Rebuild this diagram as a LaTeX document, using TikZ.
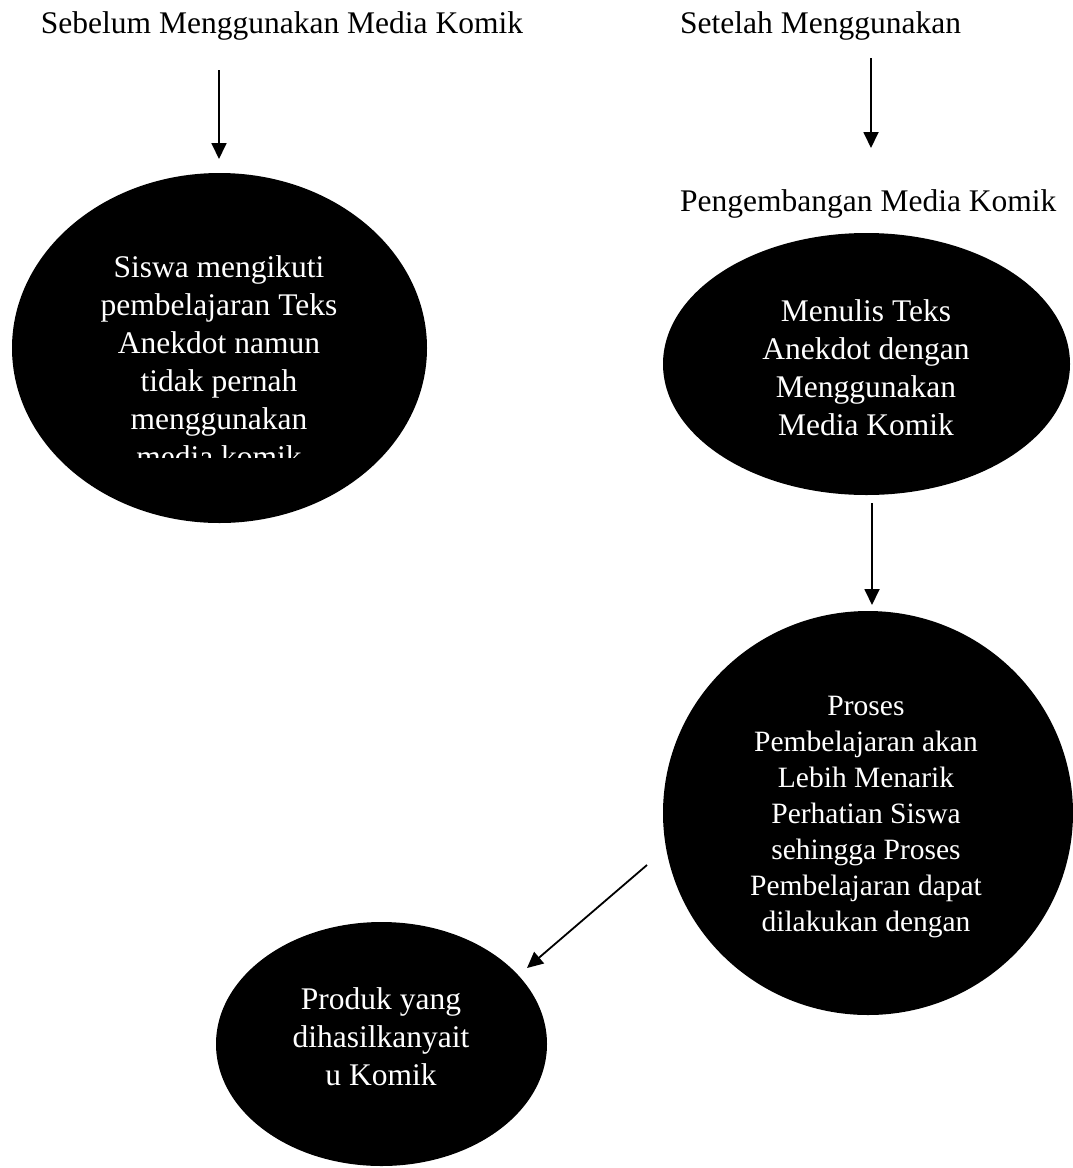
\documentclass[tikz,border=0pt]{standalone}
\usepackage{fontspec}
\setmainfont{Liberation Serif}
\usetikzlibrary{shapes.geometric,arrows.meta}
\begin{document}
\begin{tikzpicture}[x=1pt,y=-1pt,
  blob/.style={ellipse,fill=black,draw=none,inner sep=0pt,outer sep=0pt},
  btext/.style={text=white,align=center,inner sep=0pt,font=\fontsize{31.5}{38}\selectfont},
  ttext/.style={text=black,inner sep=0pt,anchor=base,font=\fontsize{31.5}{37.5}\selectfont},
  arr/.style={line width=1.8pt,-{Triangle[length=16pt,width=15pt]}}]
\useasboundingbox (0,0) rectangle (1073,1168);
% titles
\node[ttext] (t1) at (282,33) {Sebelum Menggunakan Media Komik};
\node[ttext,anchor=base west] (t2) at (680,33) {Setelah Menggunakan};
\node[ttext,anchor=base west] (t3) at (680,211) {Pengembangan Media Komik};
% ellipses
\node[blob,minimum width=415pt,minimum height=350pt] (e1) at (219.5,348) {};
\node[blob,minimum width=407pt,minimum height=262pt] (e2) at (866.5,364) {};
\node[blob,minimum width=410pt,minimum height=404pt] (e3) at (868,813) {};
\node[blob,minimum width=331pt,minimum height=244pt] (e4) at (381.5,1044) {};
% texts
\node[btext] (x1) at (219,362) {Siswa mengikuti\\pembelajaran Teks\\Anekdot namun\\tidak pernah\\menggunakan\\media komik};
\fill[black] (115,458) rectangle (325,485);
\node[btext] (x2) at (866,368) {Menulis Teks\\Anekdot dengan\\Menggunakan\\Media Komik};
\node[btext,font=\fontsize{29.5}{36}\selectfont] (x3) at (866,817) {Proses\\Pembelajaran akan\\Lebih Menarik\\Perhatian Siswa\\sehingga Proses\\Pembelajaran dapat\\dilakukan dengan};
\node[btext] (x4) at (381,1037) {Produk yang\\dihasilkanyait\\u Komik};
% arrow end points
\coordinate (a1s) at (219,70);
\coordinate (a1e) at (219,159);
\coordinate (a2s) at (871,58);
\coordinate (a2e) at (871,148);
\coordinate (a3s) at (872,503);
\coordinate (a3e) at (872,605);
\coordinate (a4s) at (647,865);
\coordinate (a4e) at (527,968);
\draw[arr] (a1s) -- (a1e);
\draw[arr] (a2s) -- (a2e);
\draw[arr] (a3s) -- (a3e);
\draw[arr] (a4s) -- (a4e);
\end{tikzpicture}
\end{document}
